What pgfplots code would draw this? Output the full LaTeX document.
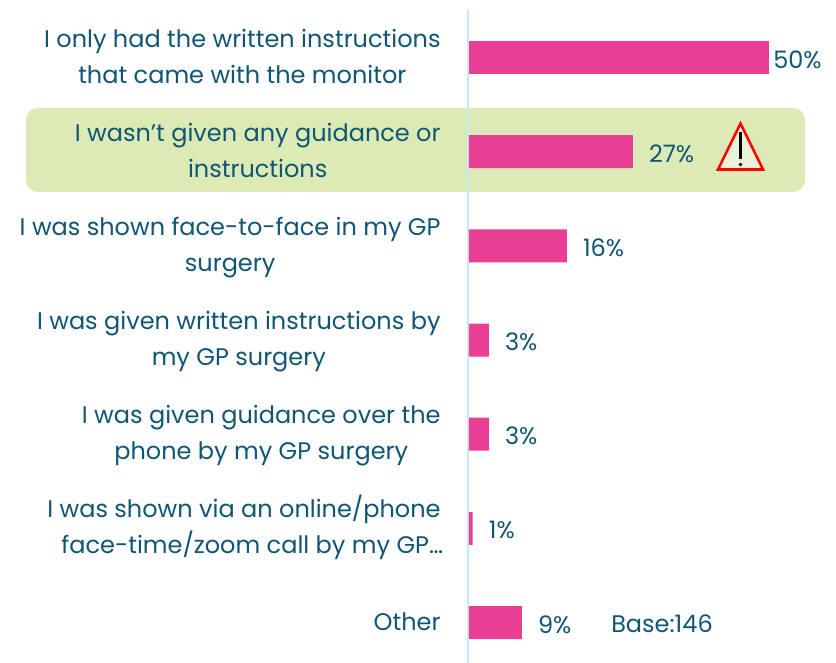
\documentclass[border=0pt]{standalone}
\usepackage{fontspec}
\setmainfont{Poppins}
\usepackage{pgfplots}
\pgfplotsset{compat=1.18}
\definecolor{txt}{HTML}{0F5575}
\definecolor{barc}{HTML}{E93F95}
\definecolor{hl}{HTML}{DCEBB5}
\definecolor{axc}{HTML}{C5EAFA}
\definecolor{tri}{HTML}{EBF3D6}
\newcommand\st{\rule[-5pt]{0pt}{18pt}}
\begin{document}
\begin{tikzpicture}[x=0.75pt,y=0.75pt,font=\fontsize{18pt}{27pt}\selectfont]
\useasboundingbox (0,0) rectangle (836,663);
\fill[hl,rounded corners=9pt] (26,471) rectangle (805,555);
\begin{axis}[
  at={(351pt,0pt)}, anchor=south west,
  scale only axis, width=276pt, height=489.75pt,
  xmin=-0.1667, xmax=61.17,
  ymin=-0.5044, ymax=6.4299, y dir=reverse,
  axis x line=none,
  axis y line=left,
  y axis line style={-,color=axc,line width=1.5pt},
  ytick={0,1,2,3,4,5,6},
  major tick length=0pt,
  yticklabels={
    {\st I only had the written instructions\\\st that came with the monitor},
    {\st I wasn’t given any guidance or\\\st instructions},
    {\st I was shown face-to-face in my GP\\\st surgery},
    {\st I was given written instructions by\\\st my GP surgery},
    {\st I was given guidance over the\\\st phone by my GP surgery},
    {\st I was shown via an online/phone\\\rule[-8.8pt]{0pt}{21.8pt}\makebox[0pt][c]{\hspace{12.5pt}face-time/zoom call by my GP…}},
    {\rule[-5pt]{0pt}{19.5pt}Other}},
  yticklabel style={align=center,anchor=east,inner sep=0pt,xshift=-20.4pt,yshift=-1.4pt,text=txt,
    font=\fontsize{18pt}{27pt}\selectfont},
  xbar, bar shift=0pt, bar width=24.75pt,
  clip=false,
  point meta=explicit symbolic,
  nodes near coords,
  every node near coord/.append style={anchor=west,text=txt,inner sep=0pt,
    font=\fontsize{18pt}{20pt}\selectfont,xshift=12pt,yshift=-1.4pt},
]
\addplot[fill=barc,draw=none,every node near coord/.append style={xshift=-9pt}] coordinates {
  (50,0)[50\%]
};
\addplot[fill=barc,draw=none] coordinates {
  (27.3,1)[27\%]
  (16.3,2)[16\%]
  (3.3,3)[3\%]
  (3.3,4)[3\%]
  (0.6,5)[1\%]
  (8.8,6)[9\%]
};
\end{axis}
\node[anchor=west,inner sep=0pt,text=txt,font=\fontsize{18pt}{20pt}\selectfont] at (611,39) {Base:146};
\draw[red,line width=1.9pt,fill=tri,line join=miter] (740.5,539.5) -- (718,493.5) -- (763,493.5) -- cycle;
\draw[black,line width=1.6pt] (740.5,531) -- (740.5,504);
\fill[black] (740.5,498.5) circle (1.9);
\end{tikzpicture}
\end{document}
